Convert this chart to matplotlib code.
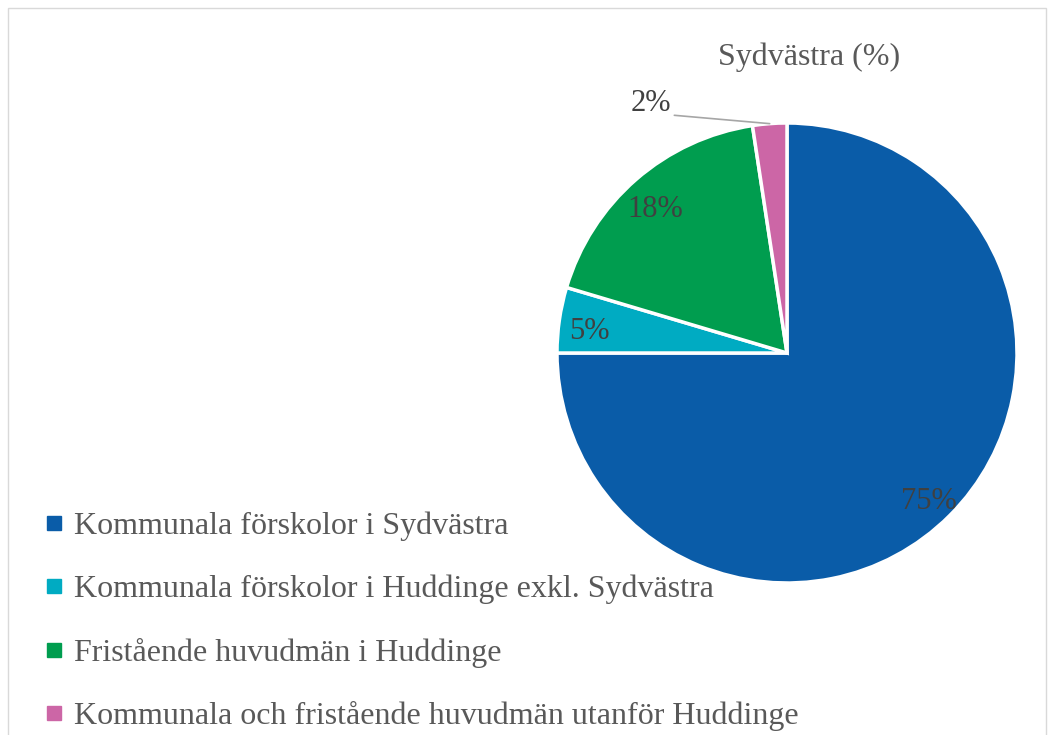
import numpy as np
import matplotlib.pyplot as plt
from matplotlib.lines import Line2D
from matplotlib.patches import Rectangle

# Data
categories = ["Kommunala förskolor i Sydvästra",
              "Kommunala förskolor i Huddinge exkl. Sydvästra",
              "Fristående huvudmän i Huddinge",
              "Kommunala och fristående huvudmän utanför Huddinge"]
values = [75.0, 4.6, 18.0, 2.4]
colors = ["#0A5CA8", "#00ABC2", "#009D4F", "#CC66A6"]
title = "Sydvästra (%)"

plt.rcParams["font.family"] = ["Liberation Serif", "DejaVu Serif"]

fig = plt.figure(figsize=(10.52, 7.35), dpi=100)
W, H = 1052, 735

# light border around the chart area
fig.patches.append(Rectangle((8 / W, -0.01), (1046 - 8) / W, (H - 8) / H + 0.01,
                             transform=fig.transFigure, fill=False,
                             edgecolor="#D9D9D9", linewidth=1))

# pie axes: center (787, 353) px, radius 230 px
cx, cy, r = 787, 353, 230
ax = fig.add_axes([(cx - r) / W, (H - cy - r) / H, 2 * r / W, 2 * r / H])
wedges, _ = ax.pie(values, colors=colors, startangle=90, counterclock=False,
                   radius=1, wedgeprops=dict(edgecolor="white", linewidth=2.5))
ax.set_xlim(-1, 1)
ax.set_ylim(-1, 1)
ax.set_aspect("equal")
ax.axis("off")

total = sum(values)
for w, v in zip(wedges, values):
    ang = np.deg2rad((w.theta1 + w.theta2) / 2)
    lbl = f"{v / total * 100:.0f}%"
    if v / total < 0.03:
        ax.annotate(lbl, xy=(np.cos(ang) * 1.0, np.sin(ang) * 1.0),
                    xytext=(-0.59, 1.085), ha="center", va="center",
                    fontsize=22, color="#404040", annotation_clip=False,
                    arrowprops=dict(arrowstyle="-", color="#A6A6A6", lw=1.2,
                                    shrinkA=0, shrinkB=0,
                                    relpos=(1.0, 0.1)))
    else:
        d = 0.87
        ax.annotate(lbl, xy=(np.cos(ang) * d, np.sin(ang) * d),
                    xytext=(0, -5), textcoords="offset points",
                    ha="center", va="center", fontsize=22, color="#404040")

fig.text(809 / W, (H - 57) / H, title, ha="center", va="center",
         fontsize=23, color="#595959")

handles = [Line2D([], [], linestyle="none", marker="s", markersize=9.5,
                  markerfacecolor=c, markeredgecolor=c) for c in colors]
leg = fig.legend(handles, categories, loc="upper left",
                 bbox_to_anchor=(32 / W, (H - 499) / H), frameon=False,
                 fontsize=23, labelspacing=1.05, handlelength=0.6,
                 handletextpad=0.3, borderaxespad=0)
for t in leg.get_texts():
    t.set_color("#595959")

fig.savefig("out.png", dpi=100)
